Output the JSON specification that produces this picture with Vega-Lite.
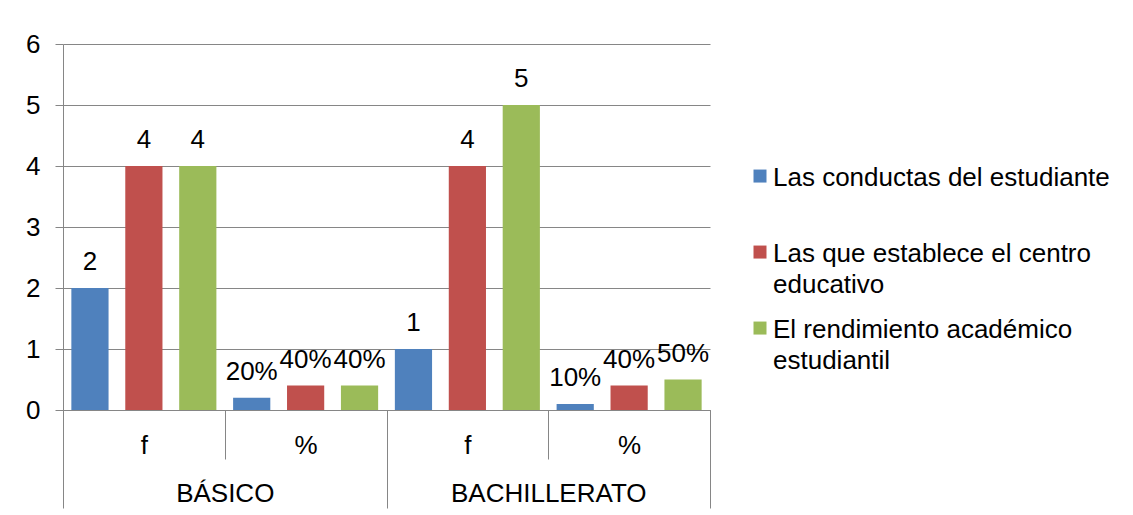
{
  "$schema": "https://vega.github.io/schema/vega-lite/v6.json",
  "width": 647,
  "height": 366,
  "autosize": {"type": "none"},
  "padding": {"left": 63, "top": 44, "right": 423, "bottom": 105},
  "background": "white",
  "config": {
    "font": "Liberation Sans",
    "view": {"stroke": null},
    "style": {"guide-label": {"lineHeight": 31}}
  },
  "data": {
    "values": [
      {"nivel": "BÁSICO", "grupo": "BÁSICO f", "serie": "Las conductas del estudiante", "valor": 2, "etiqueta": "2"},
      {"nivel": "BÁSICO", "grupo": "BÁSICO f", "serie": "Las que establece el centro educativo", "valor": 4, "etiqueta": "4"},
      {"nivel": "BÁSICO", "grupo": "BÁSICO f", "serie": "El rendimiento académico estudiantil", "valor": 4, "etiqueta": "4"},
      {"nivel": "BÁSICO", "grupo": "BÁSICO %", "serie": "Las conductas del estudiante", "valor": 0.2, "etiqueta": "20%"},
      {"nivel": "BÁSICO", "grupo": "BÁSICO %", "serie": "Las que establece el centro educativo", "valor": 0.4, "etiqueta": "40%"},
      {"nivel": "BÁSICO", "grupo": "BÁSICO %", "serie": "El rendimiento académico estudiantil", "valor": 0.4, "etiqueta": "40%"},
      {"nivel": "BACHILLERATO", "grupo": "BACHILLERATO f", "serie": "Las conductas del estudiante", "valor": 1, "etiqueta": "1"},
      {"nivel": "BACHILLERATO", "grupo": "BACHILLERATO f", "serie": "Las que establece el centro educativo", "valor": 4, "etiqueta": "4"},
      {"nivel": "BACHILLERATO", "grupo": "BACHILLERATO f", "serie": "El rendimiento académico estudiantil", "valor": 5, "etiqueta": "5"},
      {"nivel": "BACHILLERATO", "grupo": "BACHILLERATO %", "serie": "Las conductas del estudiante", "valor": 0.1, "etiqueta": "10%"},
      {"nivel": "BACHILLERATO", "grupo": "BACHILLERATO %", "serie": "Las que establece el centro educativo", "valor": 0.4, "etiqueta": "40%"},
      {"nivel": "BACHILLERATO", "grupo": "BACHILLERATO %", "serie": "El rendimiento académico estudiantil", "valor": 0.5, "etiqueta": "50%"}
    ]
  },
  "layer": [
    {
      "layer": [
        {
          "mark": {"type": "bar"},
          "encoding": {
            "x": {
              "field": "grupo", "type": "nominal",
              "scale": {"domain": ["BÁSICO f", "BÁSICO %", "BACHILLERATO f", "BACHILLERATO %"], "paddingInner": 0, "paddingOuter": 0},
              "axis": {
                "orient": "bottom", "title": null, "labelAngle": 0,
                "labelExpr": "peek(split(datum.label, ' '))",
                "tickBand": "extent", "tickSize": 49, "labelPadding": -27,
                "labelFontSize": 26, "labelColor": "black",
                "domainColor": "#868686", "tickColor": "#868686", "grid": false
              }
            },
            "xOffset": {
              "field": "serie", "type": "nominal",
              "scale": {"domain": ["Las conductas del estudiante", "Las que establece el centro educativo", "El rendimiento académico estudiantil"], "paddingInner": 0.31, "paddingOuter": 0.155}
            },
            "y": {
              "field": "valor", "type": "quantitative", "title": null,
              "scale": {"domain": [0, 6]},
              "axis": {
                "values": [0, 1, 2, 3, 4, 5, 6], "format": "d",
                "labelFontSize": 26, "labelColor": "black",
                "tickSize": 8, "labelPadding": 15,
                "tickColor": "#868686", "domainColor": "#868686", "gridColor": "#868686"
              }
            },
            "color": {
              "field": "serie", "type": "nominal",
              "scale": {"domain": ["Las conductas del estudiante", "Las que establece el centro educativo", "El rendimiento académico estudiantil"], "range": ["#4F81BD", "#C0504D", "#9BBB59"]},
              "legend": {
                "title": null, "orient": "none", "legendX": 684, "legendY": 108,
                "symbolType": "M-1,0.7H1V2.7H-1Z", "symbolSize": 169,
                "labelFontSize": 26, "labelColor": "black", "labelLimit": 400, "labelOffset": 0,
                "labelBaseline": "top", "gridAlign": "all", "rowPadding": 6,
                "labelExpr": "datum.label == 'Las que establece el centro educativo' ? ['Las que establece el centro', 'educativo'] : datum.label == 'El rendimiento académico estudiantil' ? ['El rendimiento académico', 'estudiantil'] : datum.label"
              }
            }
          }
        },
        {
          "mark": {"type": "text", "baseline": "alphabetic", "dy": -18, "fontSize": 26, "color": "black"},
          "encoding": {
            "x": {"field": "grupo", "type": "nominal"},
            "xOffset": {"field": "serie", "type": "nominal"},
            "y": {"field": "valor", "type": "quantitative", "title": null},
            "text": {"field": "etiqueta", "type": "nominal"}
          }
        }
      ]
    },
    {
      "mark": {"type": "point", "opacity": 0},
      "encoding": {
        "x": {
          "field": "nivel", "type": "nominal",
          "scale": {"domain": ["BÁSICO", "BACHILLERATO"], "paddingInner": 0, "paddingOuter": 0},
          "axis": {
            "orient": "bottom", "title": null, "labelAngle": 0,
            "tickBand": "extent", "tickSize": 98, "labelPadding": -28,
            "labelFontSize": 26, "labelColor": "black", "labelLimit": 400,
            "domainColor": "#868686", "tickColor": "#868686", "grid": false
          }
        },
        "y": {"field": "valor", "type": "quantitative", "title": null}
      }
    }
  ],
  "resolve": {"scale": {"x": "independent"}, "axis": {"x": "independent"}}
}
